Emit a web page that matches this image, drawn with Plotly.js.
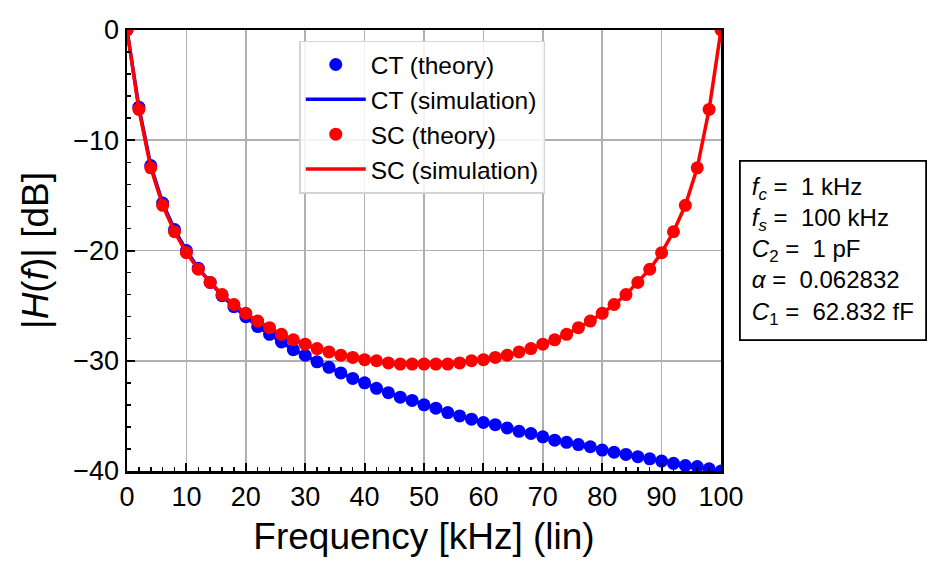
<!DOCTYPE html>
<html>
<head>
<meta charset="utf-8">
<script src="https://cdn.plot.ly/plotly-3.0.1.min.js"></script>
<style>
  html, body { margin: 0; padding: 0; background: #fff; }
  #chart { width: 930px; height: 574px; }
</style>
</head>
<body>
<div id="chart"></div>
<script>
// frequency grid, kHz
const freq = [0, 2, 4, 6, 8, 10, 12, 14, 16, 18, 20, 22, 24, 26, 28, 30, 32, 34, 36, 38, 40,
    42, 44, 46, 48, 50, 52, 54, 56, 58, 60, 62, 64, 66, 68, 70, 72, 74, 76, 78, 80,
    82, 84, 86, 88, 90, 92, 94, 96, 98, 100];

// continuous-time RC lowpass, dB
const ctTheory = [0, -7.0, -12.3, -15.7, -18.1, -20.0, -21.6, -22.9, -24.1, -25.1, -26.0,
    -26.9, -27.6, -28.3, -29.0, -29.5, -30.1, -30.6, -31.1, -31.6, -32.0,
    -32.5, -32.9, -33.3, -33.6, -34.0, -34.3, -34.7, -35.0, -35.3, -35.6,
    -35.8, -36.1, -36.4, -36.6, -36.9, -37.2, -37.4, -37.6, -37.8, -38.1,
    -38.3, -38.5, -38.7, -38.9, -39.1, -39.3, -39.5, -39.6, -39.8, -40.0];
const ctSim = ctTheory.slice();

// switched-capacitor version, dB
const scTheory = [0, -7.2, -12.5, -15.9, -18.3, -20.2, -21.7, -22.9, -24.0, -24.9, -25.7,
    -26.4, -27.0, -27.6, -28.1, -28.5, -28.9, -29.2, -29.5, -29.7, -29.9,
    -30.0, -30.2, -30.3, -30.3, -30.3, -30.3, -30.3, -30.2, -30.0, -29.9,
    -29.7, -29.5, -29.2, -28.9, -28.5, -28.1, -27.6, -27.0, -26.4, -25.7,
    -24.9, -24.0, -22.9, -21.7, -20.2, -18.3, -15.9, -12.5, -7.2, 0];
const scSim = scTheory.slice();

const paramNames = ["<i>f<sub>c</sub></i>", "<i>f<sub>s</sub></i>", "<i>C</i><sub>2</sub>", "<i>α</i>", "<i>C</i><sub>1</sub>"];
const paramValues = ["1 kHz", "100 kHz", "1 pF", "0.062832", "62.832 fF"];

const FONT = "Liberation Sans, Arial, Helvetica, sans-serif";
const BLUE = "#0000ff";
const RED = "#ff0000";

const traces = [
    { x: freq, y: ctTheory, name: "CT (theory)", mode: "markers", type: "scatter",
      legendgroup: "a", marker: { size: 13, color: BLUE } },
    { x: freq, y: ctSim, name: "CT (simulation)", mode: "lines", type: "scatter",
      legendgroup: "b", line: { width: 3.5, color: BLUE } },
    { x: freq, y: scTheory, name: "SC (theory)", mode: "markers", type: "scatter",
      legendgroup: "c", marker: { size: 13, color: RED } },
    { x: freq, y: scSim, name: "SC (simulation)", mode: "lines", type: "scatter",
      legendgroup: "d", line: { width: 3.5, color: RED } }
];

const axisCommon = {
    showgrid: true,
    gridcolor: "#b0b0b0",
    gridwidth: 1.6,
    zeroline: false,
    showline: true,
    linecolor: "black",
    linewidth: 2.5,
    mirror: true,
    ticks: "inside",
    ticklen: 8,
    tickwidth: 2,
    tickcolor: "black",
    tickfont: { family: FONT, size: 27, color: "black" },
    minor: { dtick: 2, ticks: "inside", ticklen: 4, tickwidth: 1.5, tickcolor: "black", showgrid: false }
};

const layout = {
    width: 930,
    height: 574,
    margin: { l: 127, r: 209, t: 30, b: 103 },
    paper_bgcolor: "white",
    plot_bgcolor: "white",
    font: { family: FONT, color: "black" },
    showlegend: true,
    xaxis: Object.assign({}, axisCommon, {
        range: [0, 100],
        dtick: 10,
        title: { text: "Frequency [kHz] (lin)", font: { family: FONT, size: 37 }, standoff: 12 }
    }),
    yaxis: Object.assign({}, axisCommon, {
        range: [-40, 0],
        dtick: 10,
        title: { text: "|<i>H</i>(<i>f</i>)| [dB]", font: { family: FONT, size: 37 }, standoff: 14 }
    }),
    legend: {
        x: 0.29, y: 0.976, xanchor: "left", yanchor: "top",
        bgcolor: "rgba(255,255,255,0.85)",
        bordercolor: "#d4d4d4",
        borderwidth: 1.5,
        itemwidth: 60,
        tracegroupgap: 0,
        font: { family: FONT, size: 24.5, color: "black" }
    },
    annotations: [{
        xref: "paper", yref: "paper",
        x: 1.03, y: 0.5, xanchor: "left", yanchor: "middle",
        align: "left",
        showarrow: false,
        text: paramNames.map((n, i) => n + " =\u00a0 " + paramValues[i]).join("<br>"),
        font: { family: FONT, size: 24, color: "black" },
        bordercolor: "black",
        borderwidth: 1.8,
        borderpad: 11,
        bgcolor: "white"
    }]
};

Plotly.newPlot("chart", traces, layout, { displayModeBar: false, staticPlot: true });
</script>
</body>
</html>
